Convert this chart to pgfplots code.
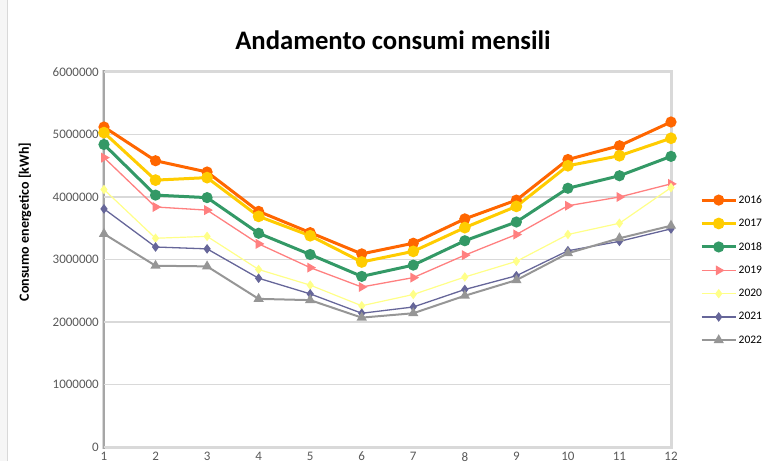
\documentclass[border=0pt]{standalone}
\usepackage{fontspec}
\setmainfont{Carlito}
\usepackage{pgfplots}
\pgfplotsset{compat=1.18}
\definecolor{c16}{HTML}{FF6600}
\definecolor{c17}{HTML}{FFCC00}
\definecolor{c18}{HTML}{339966}
\definecolor{c19}{HTML}{FF8080}
\definecolor{c20}{HTML}{FFFF88}
\definecolor{c21}{HTML}{666699}
\definecolor{c22}{HTML}{969696}
\definecolor{gridc}{HTML}{D9D9D9}
\definecolor{tickc}{HTML}{595959}
\definecolor{leftax}{HTML}{A6A6A6}
\begin{document}
\begin{tikzpicture}
\fill[gray!7] (-104pt,-14pt) rectangle (-96pt,447pt);
\draw[gray!30, line width=1pt] (-96pt,-14pt) -- (-96pt,447pt);
\draw[gridc, line width=3pt] (0,0) rectangle (567pt,375pt);
\draw[leftax, line width=2pt] (0,-1.5pt) -- (0,376.5pt);
\begin{axis}[
  at={(0,0)}, anchor=south west,
  width=567pt, height=375pt, scale only axis,
  xmin=1, xmax=12, ymin=0, ymax=6000000,
  xtick={1,...,12},
  ytick={0,1000000,2000000,3000000,4000000,5000000,6000000},
  scaled y ticks=false,
  /pgf/number format/assume math mode=true,
  yticklabel style={/pgf/number format/fixed, /pgf/number format/set thousands separator={}},
  tick label style={font=\fontsize{13}{15}\selectfont, color=tickc, inner sep=0pt},
  yticklabel style={xshift=-5pt},
  xticklabel style={yshift=-5pt},
  major tick length=0pt,
  ymajorgrids, grid style={draw=gridc, line width=1.3pt},
  axis line style={draw=none},
  clip=false,
  legend style={at={(axis description cs:1.0459,0.686)}, anchor=north west, draw=none, fill=none,
    font=\fontsize{11.5}{13}\selectfont, row sep=7.3pt,
    nodes={inner xsep=1.5pt, inner ysep=3.5pt}},
  legend cell align=left,
  legend image code/.code={\draw[mark repeat=2,mark phase=2] plot coordinates {(0pt,0pt)(17pt,0pt)(34pt,0pt)};},
]
\addplot[c16, line width=3pt, mark=*, mark size=4pt] coordinates {
(1,5120000)(2,4580000)(3,4400000)(4,3770000)(5,3430000)(6,3090000)(7,3260000)(8,3650000)(9,3950000)(10,4600000)(11,4820000)(12,5200000)};
\addlegendentry{2016}
\addplot[c17, line width=3pt, mark=*, mark size=4.3pt] coordinates {
(1,5030000)(2,4270000)(3,4310000)(4,3690000)(5,3380000)(6,2960000)(7,3130000)(8,3510000)(9,3850000)(10,4500000)(11,4660000)(12,4940000)};
\addlegendentry{2017}
\addplot[c18, line width=3pt, mark=*, mark size=4pt] coordinates {
(1,4840000)(2,4030000)(3,3990000)(4,3420000)(5,3080000)(6,2730000)(7,2910000)(8,3300000)(9,3600000)(10,4140000)(11,4340000)(12,4650000)};
\addlegendentry{2018}
\addplot[c19, line width=1.3pt, mark=triangle*, mark size=4.5pt, mark options={rotate=-90}] coordinates {
(1,4630000)(2,3840000)(3,3790000)(4,3250000)(5,2870000)(6,2560000)(7,2710000)(8,3070000)(9,3400000)(10,3860000)(11,4000000)(12,4210000)};
\addlegendentry{2019}
\addplot[c20, line width=1.2pt, mark=diamond*, mark size=3.8pt] coordinates {
(1,4120000)(2,3340000)(3,3370000)(4,2840000)(5,2590000)(6,2260000)(7,2440000)(8,2720000)(9,2970000)(10,3400000)(11,3580000)(12,4150000)};
\addlegendentry{2020}
\addplot[c21, line width=1.3pt, mark=diamond*, mark size=3.8pt] coordinates {
(1,3810000)(2,3200000)(3,3170000)(4,2700000)(5,2450000)(6,2140000)(7,2240000)(8,2520000)(9,2740000)(10,3140000)(11,3290000)(12,3490000)};
\addlegendentry{2021}
\addplot[c22, line width=2pt, mark=triangle*, mark size=4pt] coordinates {
(1,3410000)(2,2900000)(3,2890000)(4,2370000)(5,2350000)(6,2070000)(7,2140000)(8,2420000)(9,2670000)(10,3100000)(11,3340000)(12,3540000)};
\addlegendentry{2022}
\end{axis}
\node[rotate=90, font=\fontsize{14}{16}\selectfont\bfseries] at (-79pt,225pt) {Consumo energetico [kWh]};
\node[font=\fontsize{26.7}{30}\selectfont\bfseries] at (289pt,407pt) {Andamento consumi mensili};
\pgfresetboundingbox
\path[use as bounding box] (-104pt,-14pt) rectangle (673pt,447pt);
\end{tikzpicture}
\end{document}
